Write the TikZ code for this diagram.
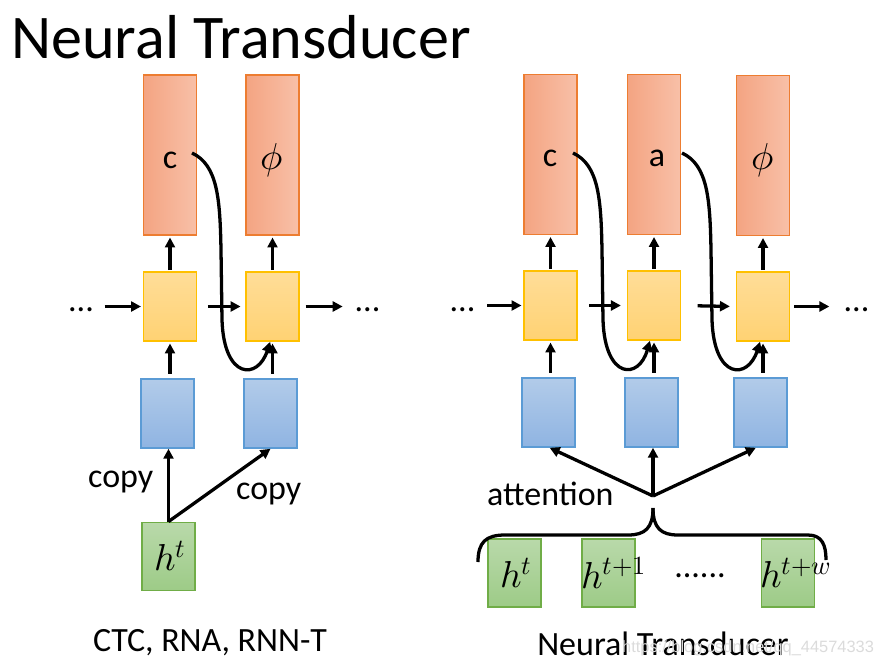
\documentclass[tikz,border=0pt]{standalone}
\usepackage{fontspec}
\usepackage{unicode-math}
\setmainfont{Carlito}
\setmathfont{Latin Modern Math}
\newfontfamily\wmfont{Liberation Sans}
\usetikzlibrary{arrows.meta,calc}
\definecolor{orL}{RGB}{244,164,130}
\definecolor{orR}{RGB}{248,192,168}
\definecolor{orB}{RGB}{237,125,49}
\definecolor{yeT}{RGB}{255,221,152}
\definecolor{yeD}{RGB}{255,210,115}
\definecolor{yeB}{RGB}{255,192,0}
\definecolor{blT}{RGB}{178,203,233}
\definecolor{blD}{RGB}{143,180,226}
\definecolor{blB}{RGB}{91,155,213}
\definecolor{grT}{RGB}{185,217,170}
\definecolor{grD}{RGB}{157,203,135}
\definecolor{grB}{RGB}{112,173,71}
\begin{document}
\begin{tikzpicture}[x=0.03cm,y=-0.03cm,
  arr/.style={line width=2.8pt,-{Triangle[length=8.5pt,width=8.5pt]}},
  brc/.style={line width=2.8pt},
  obox/.style={draw=orB,line width=1.3pt,left color=orL,right color=orR,minimum width=1.59cm,minimum height=4.8cm,inner sep=0pt},
  ybox/.style={draw=yeB,line width=1.3pt,top color=yeT,bottom color=yeD,minimum width=1.59cm,minimum height=2.07cm,inner sep=0pt},
  bbox/.style={draw=blB,line width=1.3pt,top color=blT,bottom color=blD,minimum width=1.59cm,minimum height=2.07cm,inner sep=0pt},
  gbox/.style={draw=grB,line width=1.3pt,top color=grT,bottom color=grD,minimum width=1.59cm,minimum height=2.05cm,inner sep=0pt},
  txt/.style={font=\fontsize{29}{34}\selectfont,inner sep=0pt},
  mth/.style={font=\fontsize{32}{38}\selectfont,inner sep=0pt},
]
\useasboundingbox (0,0) rectangle (879,667);
\node[inner sep=0pt,font=\fontsize{53}{60}\selectfont,anchor=base west] (title) at (11,58) {Neural Transducer};

% ---------- left part ----------
\node[obox] (O1) at (170,155) {};
\node[obox] (O2) at (272.5,155) {};
\node[ybox] (Y1) at (170,306.5) {};
\node[ybox] (Y2) at (272.5,306.5) {};
\node[bbox] (B1) at (167.5,413.5) {};
\node[bbox] (B2) at (270.5,413.5) {};
\node[gbox] (G1) at (168.5,556.5) {};
\node[txt] (lc1) at (170,160) {c};
\node[mth] (lp1) at (272,160) {$\phi$};
\node[mth] (lh1) at (170,556) {$h^t$};

\draw[arr,shorten <=1pt,shorten >=1.5pt] (Y1.north) -- (O1.south);
\draw[arr,shorten <=1pt,shorten >=1.5pt] (Y2.north) -- (O2.south);
\draw[arr,shorten <=4pt,shorten >=1.5pt] (Y1.south |- B1.north) -- (Y1.south);
\draw[arr,shorten <=4pt,shorten >=1.5pt] (Y2.south |- B2.north) -- (Y2.south);

\node[txt,anchor=base] (d1) at (81,311) {...};
\node[txt,anchor=base] (d2) at (367.5,311) {...};
\draw[arr,shorten <=9pt,shorten >=1.5pt] (d1.east |- Y1.west) -- (Y1.west);
\draw[arr,shorten <=9pt,shorten >=4pt] (Y1.east) -- (Y2.west);
\draw[arr,shorten <=5pt,shorten >=10pt] (Y2.east) -- (d2.west |- Y2.east);

\coordinate (s1) at (192,153);
\draw[arr] (s1) .. controls (218,165) and (220,200) .. (221,250) -- (222,320)
  .. controls (224,380) and (258,380) .. ([xshift=-2pt]Y2.south);

\draw[arr] (G1.north) -- (G1.north |- B1.south);
\draw[arr] (G1.north) -- (B2.south);
\node[txt,anchor=base west] (cp1) at (88,487) {copy};
\node[txt,anchor=base west] (cp2) at (236,499) {copy};
\node[txt,anchor=base] (cap1) at (210,651) {CTC, RNA, RNN-T};

% ---------- right part ----------
\node[obox] (O3) at (550.5,154.5) {};
\node[obox] (O4) at (654,154.5) {};
\node[obox] (O5) at (763,155.5) {};
\node[ybox] (Y3) at (550.5,305.5) {};
\node[ybox] (Y4) at (654,305.5) {};
\node[ybox] (Y5) at (763,306.5) {};
\node[bbox] (B3) at (548.5,412.5) {};
\node[bbox] (B4) at (651.5,412.5) {};
\node[bbox] (B5) at (760.5,412.5) {};
\node[gbox] (G2) at (514.5,573) {};
\node[gbox] (G3) at (608.5,573) {};
\node[gbox] (G4) at (788,573) {};
\node[txt] (lc2) at (550,158) {c};
\node[txt] (la2) at (657,158) {a};
\node[mth] (lp2) at (763,160) {$\phi$};

\draw[arr,shorten <=1pt,shorten >=1.5pt] (Y3.north) -- (O3.south);
\draw[arr,shorten <=1pt,shorten >=1.5pt] (Y4.north) -- (O4.south);
\draw[arr,shorten <=1pt,shorten >=1.5pt] (Y5.north) -- (O5.south);
\draw[arr,shorten <=4pt,shorten >=1.5pt] (Y3.south |- B3.north) -- (Y3.south);
\draw[arr,shorten <=4pt,shorten >=1.5pt] (Y4.south |- B4.north) -- (Y4.south);
\draw[arr,shorten <=4pt,shorten >=1.5pt] (Y5.south |- B5.north) -- (Y5.south);

\node[txt,anchor=base] (d3) at (462.5,311) {...};
\node[txt,anchor=base] (d4) at (856.5,311) {...};
\draw[arr,shorten <=10pt,shorten >=1.5pt] (d3.east |- Y3.west) -- (Y3.west);
\draw[arr,shorten <=10pt,shorten >=5pt] (Y3.east) -- (Y4.west);
\draw[arr,shorten <=14pt,shorten >=5pt] (Y4.east) -- (Y5.west);
\draw[arr,shorten <=3.5pt,shorten >=12pt] (Y5.east) -- (d4.west |- Y5.east);

\coordinate (s2) at (573,153);
\draw[arr] (s2) .. controls (599,165) and (601,200) .. (602,250) -- (603,320)
  .. controls (605,380) and (639,380) .. ([xshift=-3.5pt]Y4.south);
\coordinate (s3) at (682,153);
\draw[arr] (s3) .. controls (708,165) and (710,200) .. (711,250) -- (712,320)
  .. controls (714,380) and (748,380) .. ([xshift=-2.5pt]Y5.south);

\coordinate (att) at (653,496);
\draw[arr] (att) -- ([xshift=1pt]B3.south);
\draw[arr] (att) -- (att |- B4.south);
\draw[arr] (att) -- ([xshift=-4pt]B5.south);
\node[txt,anchor=base west] (attl) at (487,505) {attention};

\coordinate (tip) at (653,508);
\draw[brc] (478,562) .. controls (478,542) and (486,535) .. (505,535) -- (628,535)
  .. controls (645,535) and (653,528) .. (tip);
\draw[brc] (tip) .. controls (653,528) and (661,535) .. (678,535) -- (808,535)
  .. controls (822,535) and (826,545) .. (826,560);

\node[mth] (lh2) at (516,573) {$h^t$};
\node[mth,anchor=west] (lh3) at (581,573) {$h^{t+1}$};
\node[mth,anchor=west] (lh4) at (760,573) {$h^{t+w}$};
\node[txt,anchor=base] (dd) at (700,577) {......};
\node[txt,anchor=base] (cap2) at (663,655) {Neural Transducer};
\node[inner sep=0pt,anchor=base west,text=black!14,font=\wmfont\fontsize{14}{16}\selectfont] (wm) at (622,652) {https://blog.csdn.net/qq\_44574333};
\end{tikzpicture}
\end{document}
